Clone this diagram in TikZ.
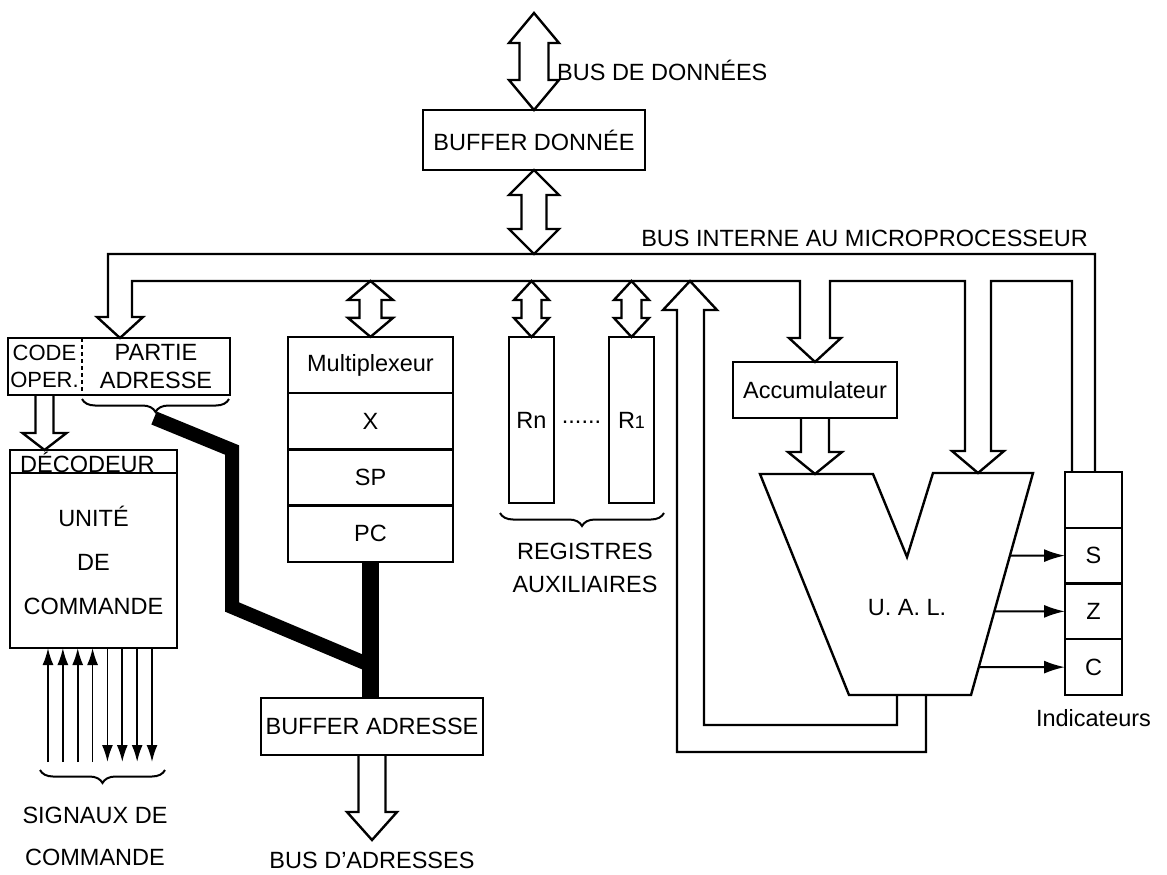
\documentclass[tikz,border=0pt]{standalone}
\usepackage{fontspec}
\setmainfont{Liberation Sans}
\usetikzlibrary{arrows.meta,positioning,calc,decorations.pathreplacing}
\tikzset{
  trait/.style    = {line width=2.4pt, line join=miter},
  boite/.style    = {rectangle, draw, trait, outer sep=0pt, inner sep=1pt, align=center},
  case/.style     = {boite, minimum width=165pt, minimum height=56.25pt},
  drapeau/.style  = {boite, minimum width=57pt, minimum height=55.75pt},
  registre/.style = {boite, minimum width=45pt, minimum height=166pt},
  contour/.style  = {draw, trait},
  texte/.style    = {align=center, inner sep=0pt},
  fleche/.style   = {-{Latex[length=21pt,width=13pt]}, line width=2pt},
  signal/.style   = {-{Latex[length=17pt,width=11pt]}, line width=1.8pt},
  gros/.style     = {line width=14pt, line join=miter},
  accolade/.style = {decorate, decoration={brace, mirror, amplitude=13pt}, line width=2pt},
}
% fleche creuse vers le bas : haut, pointe, demi-tige, demi-tete, longueur tete
\newcommand{\flechebas}[5]{%
  \draw[contour] ($(#1 -| #2)+(-#3,0)$) -- ($(#2)+(-#3,-#5)$) -- ($(#2)+(-#4,-#5)$) -- (#2)
    -- ($(#2)+(#4,-#5)$) -- ($(#2)+(#3,-#5)$) -- ($(#1 -| #2)+(#3,0)$);}
% fleche creuse double : pointe haute, pointe basse, demi-tige, demi-tete, longueur tete
\newcommand{\flechedouble}[5]{%
  \draw[contour, fill=white] (#1 -| #2) -- ($(#1 -| #2)+(#4,#5)$) -- ($(#1 -| #2)+(#3,#5)$)
    -- ($(#2)+(#3,-#5)$) -- ($(#2)+(#4,-#5)$) -- (#2) -- ($(#2)+(-#4,-#5)$) -- ($(#2)+(-#3,-#5)$)
    -- ($(#1 -| #2)+(-#3,#5)$) -- ($(#1 -| #2)+(-#4,#5)$) -- cycle;}

\begin{document}
\begin{tikzpicture}[x=1pt, y=-1pt, font=\fontsize{23.5}{28}\selectfont]
    \useasboundingbox (0,0) rectangle (1167,875);

    % --- bus de donnees
    \node[boite, minimum width=222pt, minimum height=60pt] (bufd) at (534,140) {BUFFER DONNÉE};
    \coordinate (dhaut) at (534,13);
    \node[texte, anchor=west] (lbd) at (557,70) {BUS DE DONNÉES};

    % --- registre d'instruction
    \node[boite, minimum width=222pt, minimum height=57pt] (instr) at (119,366.5) {};
    \node[texte, font=\fontsize{22}{27}\selectfont] (code) at (44.5,366.5) {CODE\\OPER.};
    \node[texte] (partie) at (156,366.5) {PARTIE\\ADRESSE};
    \draw[line width=1.5pt, dash pattern=on 4pt off 3pt]
      ($(instr.north west)+(74,0)$) -- ($(instr.south west)+(74,0)$);

    % --- decodeur et unite de commande
    \node[boite, minimum width=167pt, minimum height=23pt, anchor=north] (decot) at (93.5,450) {};
    \node[texte, anchor=base west] (decolab) at (20,472.5) {DÉCODEUR};
    \node[boite, minimum width=167pt, minimum height=175pt, anchor=north,
          font=\fontsize{23.5}{44}\selectfont] (unite) at (decot.south) {UNITÉ\\DE\\COMMANDE};

    % --- multiplexeur et pointeurs
    \node[case] (mux) at (370.5,365) {Multiplexeur};
    \node[case, below=0pt of mux] (regx) {X};
    \node[case, below=0pt of regx] (sp) {SP};
    \node[case, below=0pt of sp] (pc) {PC};

    % --- registres auxiliaires
    \node[registre] (rn) at (531.5,420) {Rn};
    \node[registre, right=55pt of rn] (r1) {R{\fontsize{18}{20}\selectfont 1}};
    \node[texte] (points) at ($(rn.east)!0.5!(r1.west)+(0,2)$) {......};
    \draw[accolade] ($(rn.south west)+(-9,10)$) -- ($(r1.south east)+(10,10)$);
    \node[texte, font=\fontsize{23.5}{33}\selectfont] (regaux) at (585,568) {REGISTRES\\AUXILIAIRES};

    % --- accumulateur, UAL, indicateurs
    \node[boite, minimum width=164pt, minimum height=56pt] (acc) at (815,390) {Accumulateur};
    \coordinate (aluNO) at (760,474);
    \coordinate (aluNI) at (873,474);
    \coordinate (aluV)  at (907,557);
    \coordinate (aluNJ) at (933,473);
    \coordinate (aluNE) at (1033,473);
    \coordinate (aluSE) at (971,695);
    \coordinate (aluSO) at (849,695);
    \draw[trait] (aluNO) -- (aluNI) -- (aluV) -- (aluNJ) -- (aluNE) -- (aluSE) -- (aluSO) -- cycle;
    \node[texte] (ual) at (907,608) {U. A. L.};

    \node[drapeau, anchor=north] (fl0) at (1093.5,472) {};
    \node[drapeau, below=0pt of fl0] (flS) {S};
    \node[drapeau, below=0pt of flS] (flZ) {Z};
    \node[drapeau, below=0pt of flZ] (flC) {C};
    \node[texte, below=14pt of flC] (indic) {Indicateurs};
    \draw[fleche] (intersection of aluNE--aluSE and flS.west--flS.east) -- (flS.west);
    \draw[fleche] (intersection of aluNE--aluSE and flZ.west--flZ.east) -- (flZ.west);
    \draw[fleche] (intersection of aluNE--aluSE and flC.west--flC.east) -- (flC.west);

    % --- buffer adresse
    \node[boite, minimum width=222pt, minimum height=57pt] (bufa) at (372,726.5) {BUFFER ADRESSE};
    \coordinate (padr) at ($(bufa.south)+(0,85)$);
    \node[texte, below=12pt of padr] (lba) {BUS D’ADRESSES};

    % --- bus interne
    \coordinate (pinstr) at ($(instr.north west)+(112,0)$);
    \coordinate (busext) at ($(pinstr)+(-12,-84)$);
    \coordinate (busint) at ($(acc.north)+(-15,-81)$);
    \coordinate (palu) at ($(aluNJ)!0.45!(aluNE)$);
    \coordinate (indD) at ($(fl0.north)+(1.5,0)$);
    \coordinate (indG) at ($(fl0.north)+(-21.5,0)$);
    \draw[contour] (indD) |- (busext) -- ($(pinstr)+(-12,-21)$) -- ($(pinstr)+(-23,-21)$) -- (pinstr)
      -- ($(pinstr)+(23,-21)$) -- ($(pinstr)+(12,-21)$) |- (busint) -- ($(acc.north)+(-15,-24)$)
      -- ($(acc.north)+(-26,-24)$) -- (acc.north) -- ($(acc.north)+(26,-24)$) -- ($(acc.north)+(15,-24)$)
      |- ($(palu)+(-13,-192)$) -- ($(palu)+(-13,-22)$) -- ($(palu)+(-26,-22)$) -- (palu)
      -- ($(palu)+(26,-22)$) -- ($(palu)+(13,-22)$) -- ($(palu)+(13,-192)$) -| (indG);
    \node[texte, anchor=base east] (lbi) at (1088,246) {BUS INTERNE AU MICROPROCESSEUR};

    % retour de l'UAL vers le bus
    \coordinate (pretour) at (690,0 |- busint);
    \draw[contour] ($(aluSO)+(48,0)$) |- ($(pretour)+(14,444)$) -- ($(pretour)+(14,29)$)
      -- ($(pretour)+(27,29)$) -- (pretour) -- ($(pretour)+(-27,29)$) -- ($(pretour)+(-13,29)$)
      -- ($(pretour)+(-13,471)$) -| ($(aluSO)+(77,0)$);

    % --- fleches creuses
    \coordinate (dbas) at (bufd.south |- busext);
    \flechedouble{dhaut}{bufd.north}{14.5}{25}{30}
    \flechedouble{bufd.south}{dbas}{12.5}{25}{25}
    \coordinate (mhaut) at (mux.north |- busint);
    \flechedouble{mhaut}{mux.north}{11}{22.5}{19}
    \coordinate (rnhaut) at (rn.north |- busint);
    \flechedouble{rnhaut}{rn.north}{10}{17.5}{19}
    \coordinate (r1haut) at (r1.north |- busint);
    \flechedouble{r1haut}{r1.north}{10}{17.5}{19}
    \coordinate (pcode) at (code |- decot.north);
    \flechebas{instr.south}{pcode}{9}{22}{17}
    \coordinate (pacc) at (acc.south |- aluNO);
    \flechebas{acc.south}{pacc}{14}{27}{22}
    \flechebas{bufa.south}{padr}{13.5}{25}{28}

    % --- bus d'adresses (trait epais)
    \draw[accolade] ($(instr.south west)+(74,4)$) -- ($(instr.south east)+(-1,4)$);
    \coordinate (bande0) at ($(instr.south west)+(146,23)$);
    \coordinate (jonction) at ($(pc.south)!0.76!(pc.south |- bufa.north)$);
    \draw[gros] (bande0) -- ++(78,32) -- ++(0,157) -- (jonction);
    \draw[gros, line width=17pt] (pc.south) -- (pc.south |- bufa.north);

    % --- signaux de commande
    \foreach \i in {0,...,3}
      \draw[signal] ($(unite.south west)+(38+14.86*\i,114)$) -- ($(unite.south west)+(38+14.86*\i,0)$);
    \foreach \i in {4,...,7}
      \draw[signal] ($(unite.south west)+(38+14.86*\i,0)$) -- ($(unite.south west)+(38+14.86*\i,114)$);
    \draw[accolade] ($(unite.south west)+(30,122)$) -- ($(unite.south west)+(155,122)$);
    \node[texte, font=\fontsize{23.5}{42}\selectfont] (signaux) at (95,836) {SIGNAUX DE\\COMMANDE};
\end{tikzpicture}
\end{document}
